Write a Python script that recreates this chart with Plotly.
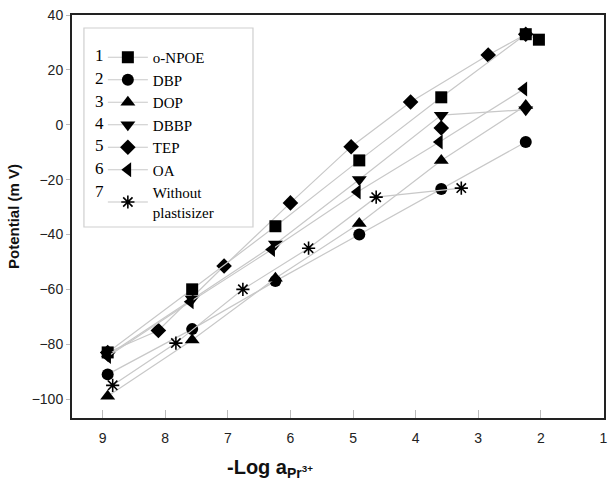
import plotly.graph_objects as go

# ---- data ----
names = ["o-NPOE", "DBP", "DOP", "DBBP", "TEP", "OA", "Without<br>plastisizer"]
numbers = ["1", "2", "3", "4", "5", "6", "7"]
symbols = ["square", "circle", "triangle-up", "triangle-down", "diamond", "triangle-left", "asterisk-open"]

x_onpoe = [8.92, 7.57, 6.24, 4.90, 3.59, 2.24, 2.03]
y_onpoe = [-83, -60, -37, -13, 10, 33, 31]

x_dbp = [8.92, 7.57, 6.24, 4.90, 3.59, 2.24]
y_dbp = [-91, -74.5, -57, -40, -23.4, -6.3]

x_dop = [8.92, 7.57, 6.24, 4.90, 3.59, 2.24]
y_dop = [-99, -78.5, -56, -36, -13, 7]

x_dbbp = [8.92, 7.57, 6.24, 4.90, 3.59, 2.24]
y_dbbp = [-84, -63.5, -43.5, -20, 3.5, 5.5]

x_tep = [8.92, 8.11, 7.06, 6.00, 5.03, 4.08, 2.84, 2.24]
y_tep = [-83, -75, -51.5, -28.5, -8, 8.3, 25.4, 33]

x_oa = [8.92, 7.60, 6.30, 4.93, 3.62, 2.27]
y_oa = [-84.5, -64.5, -45.5, -24.5, -6.3, 13]

x_wo = [8.84, 7.83, 6.76, 5.71, 4.63, 3.27]
y_wo = [-95, -79.6, -60, -45, -26.4, -23.1]

x_extra = [3.59]
y_extra = [-1.2]

xs = [x_onpoe, x_dbp, x_dop, x_dbbp, x_tep, x_oa, x_wo]
ys = [y_onpoe, y_dbp, y_dop, y_dbbp, y_tep, y_oa, y_wo]

x_ticks = [9, 8, 7, 6, 5, 4, 3, 2, 1]
y_ticks = [-100, -80, -60, -40, -20, 0, 20, 40]

LINE = "#c8c8c8"
LEG_FONT = 15
SERIF = "Liberation Serif, Times New Roman, serif"
SANS = "Liberation Sans, Arial, sans-serif"
fig = go.Figure()

# draw TEP first so the squares lie on top at the end
order = [4, 0, 1, 2, 3, 5, 6]
for i in order:
    sym = symbols[i]
    marker = dict(symbol=sym, size=12, color="black")
    if sym == "asterisk-open":
        marker = dict(symbol=sym, size=11, color="black", line=dict(color="black", width=1.6))
    if sym in ("triangle-up", "triangle-down", "triangle-left"):
        marker["size"] = 13
    fig.add_trace(go.Scatter(
        x=xs[i], y=ys[i], mode="lines+markers", name=names[i],
        line=dict(color=LINE, width=1.2), marker=marker,
        legendrank=i + 1,
    ))

fig.add_trace(go.Scatter(x=x_extra, y=y_extra, mode="markers", showlegend=False,
                         marker=dict(symbol="diamond", size=12, color="black")))

axis_font = dict(family=SANS, size=14, color="#222")

# legend geometry (paper units) and the row numbers placed beside it
plot_h = 487 - 15 - 69
leg_top_px = 41
row_h = LEG_FONT * 1.3 + 3
row_centers_px = [leg_top_px + 15 + k * row_h for k in range(7)]
num_annots = [
    dict(text=numbers[k], xref="paper", yref="paper",
         x=(100 - 72) / 535, y=(418 - row_centers_px[k]) / plot_h,
         xanchor="center", yanchor="middle", showarrow=False,
         font=dict(family=SERIF, size=LEG_FONT + 2, color="black"))
    for k in range(7)
]

fig.update_layout(
    width=608, height=487,
    margin=dict(l=72, r=1, t=15, b=69),
    paper_bgcolor="white", plot_bgcolor="white",
    showlegend=True,
    legend=dict(
        x=0.058, y=(418 - leg_top_px) / plot_h, xanchor="left", yanchor="top",
        bgcolor="rgba(0,0,0,0)", borderwidth=0,
        font=dict(family=SERIF, size=LEG_FONT, color="black"),
        traceorder="normal", itemwidth=40, tracegroupgap=0,
    ),
    xaxis=dict(
        range=[9.49, 0.99], tickvals=x_ticks, ticktext=[str(v) for v in x_ticks],
        showgrid=False, zeroline=False,
        showline=True, linecolor="#222", linewidth=2, mirror=True,
        ticks="inside", ticklen=8, tickcolor="#bbb", tickwidth=1,
        tickfont=axis_font, ticklabelstandoff=6, ticklabeloverflow="allow",
    ),
    yaxis=dict(
        range=[-106.9, 40], tickvals=y_ticks,
        showgrid=False, zeroline=False,
        showline=True, linecolor="#222", linewidth=2, mirror=True,
        ticks="outside", ticklen=4, tickcolor="#bbb", tickwidth=1,
        tickfont=axis_font,
        title=dict(text="<b>Potential (m V)</b>",
                   font=dict(family=SANS, size=15, color="#111"),
                   standoff=8),
    ),
    annotations=[
        dict(text="<b>-Log a<sub>Pr<sup>3+</sup></sub></b>", xref="paper", yref="paper",
             x=(226 - 72) / 535, y=-0.09, xanchor="left", yanchor="top", showarrow=False,
             font=dict(family=SANS, size=20, color="#111")),
    ] + num_annots,
    shapes=[
        dict(type="rect", xref="paper", yref="paper",
             x0=(84 - 72) / 535, x1=(254 - 72) / 535,
             y0=(418 - 227) / plot_h, y1=(418 - 28) / plot_h,
             line=dict(color="#cfcfcf", width=1.2)),
    ],
)

fig.write_html("out.html")
